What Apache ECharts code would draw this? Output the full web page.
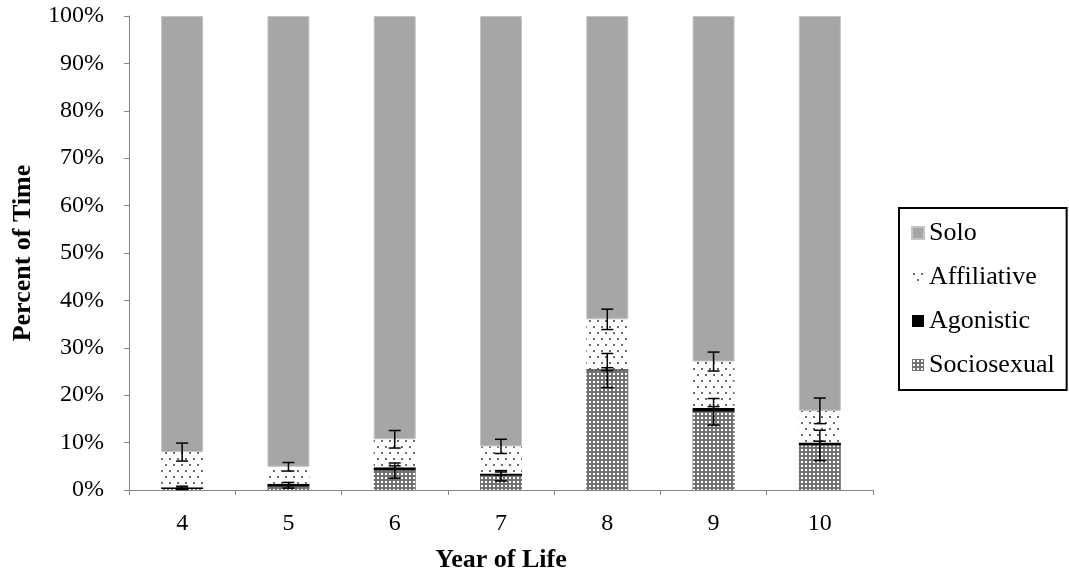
<!DOCTYPE html>
<html>
<head>
<meta charset="utf-8">
<script src="https://cdn.jsdelivr.net/npm/echarts@6/dist/echarts.min.js"></script>
<style>
html,body{margin:0;padding:0;background:#fff;}
#chart{width:1069px;height:575px;}
</style>
</head>
<body>
<div id="chart"></div>
<script>
// ---- data (percent of time) ----
const years = ['4', '5', '6', '7', '8', '9', '10'];
const sociosexual = [0.2, 0.7, 4.1, 3.0, 25.2, 16.5, 9.4];
const agonistic   = [0.4, 0.6, 0.7, 0.5, 0.3, 0.8, 0.6];
const affiliative = [7.4, 3.6, 5.9, 5.7, 10.5, 9.8, 6.7];
const solo        = [92.0, 95.1, 89.3, 90.8, 64.0, 72.9, 83.3];
const sociosexualErr = [0.1, 0.3, 1.6, 1.1, 3.6, 2.8, 3.2];
const agonisticErr   = [0.2, 0.3, 0.3, 0.3, 0.3, 0.3, 0.3];
const affiliativeErr = [1.9, 0.9, 1.85, 1.5, 2.15, 2.0, 2.7];
const yTicks = [0, 10, 20, 30, 40, 50, 60, 70, 80, 90, 100];

// ---- patterns ----
function makeDots() {
  const c = document.createElement('canvas');
  c.width = 8; c.height = 12;
  const g = c.getContext('2d');
  g.fillStyle = '#ffffff'; g.fillRect(0, 0, 8, 12);
  g.fillStyle = '#6a6a6a';
  g.fillRect(1, 2, 2, 2);
  g.fillRect(5, 8, 2, 2);
  return c;
}
function makeGrid() {
  const c = document.createElement('canvas');
  c.width = 4; c.height = 4;
  const g = c.getContext('2d');
  g.fillStyle = '#727272'; g.fillRect(0, 0, 4, 4);
  g.fillStyle = '#ffffff'; g.fillRect(1, 1, 2, 2);
  return c;
}
const dotPattern = { image: makeDots(), repeat: 'repeat' };
const gridPattern = { image: makeGrid(), repeat: 'repeat' };

function errData(centers, errs) {
  return centers.map((c, i) => [i, c, errs[i]]);
}
const socTop = sociosexual.slice();
const agoTop = sociosexual.map((v, i) => v + agonistic[i]);
const affTop = agoTop.map((v, i) => v + affiliative[i]);

function errRender(params, api) {
  const x = api.value(0), c = api.value(1), h = api.value(2);
  const top = api.coord([x, c + h]);
  const bot = api.coord([x, c - h]);
  const cap = 6;
  const st = { stroke: '#000', lineWidth: 1.5 };
  return {
    type: 'group',
    children: [
      { type: 'line', shape: { x1: top[0], y1: top[1], x2: bot[0], y2: bot[1] }, style: st },
      { type: 'line', shape: { x1: top[0] - cap, y1: top[1], x2: top[0] + cap, y2: top[1] }, style: st },
      { type: 'line', shape: { x1: bot[0] - cap, y1: bot[1], x2: bot[0] + cap, y2: bot[1] }, style: st }
    ]
  };
}
function errSeries(name, data) {
  return {
    name: name, type: 'custom', renderItem: errRender,
    data: data, encode: { x: 0, y: 1 }, z: 10, silent: true
  };
}

const FONT = '"Liberation Serif", "Times New Roman", serif';
const axisColor = '#868686';

const chart = echarts.init(document.getElementById('chart'), null, { renderer: 'canvas' });
chart.setOption({
  animation: false,
  textStyle: { fontFamily: FONT, color: '#000' },
  grid: { left: 129, right: 196, top: 16, bottom: 85, containLabel: false, outerBoundsMode: 'none' },
  legend: {
    data: ['Solo', 'Affiliative', 'Agonistic', 'Sociosexual'],
    orient: 'vertical',
    left: 899, top: 208,
    padding: [12, 12, 12, 12],
    itemGap: 18,
    itemWidth: 12, itemHeight: 12,
    icon: 'rect',
    borderColor: '#000', borderWidth: 2,
    textStyle: { fontFamily: FONT, fontSize: 26, color: '#000', lineHeight: 26 }
  },
  xAxis: {
    type: 'category',
    data: years,
    name: 'Year of Life',
    nameLocation: 'middle',
    nameGap: 57,
    nameTextStyle: { fontFamily: FONT, fontSize: 26, fontWeight: 'bold', color: '#000' },
    axisLine: { show: true, lineStyle: { color: axisColor, width: 1 } },
    axisTick: { show: true, length: 5, lineStyle: { color: axisColor } },
    axisLabel: { fontFamily: FONT, fontSize: 24, color: '#000', margin: 22 },
    splitLine: { show: false }
  },
  yAxis: {
    type: 'value',
    min: yTicks[0], max: yTicks[yTicks.length - 1], interval: 10,
    name: 'Percent of Time',
    nameLocation: 'middle',
    nameGap: 93,
    nameTextStyle: { fontFamily: FONT, fontSize: 26, fontWeight: 'bold', color: '#000' },
    axisLine: { show: true, lineStyle: { color: axisColor, width: 1 } },
    axisTick: { show: true, length: 5, lineStyle: { color: axisColor } },
    axisLabel: { fontFamily: FONT, fontSize: 24, color: '#000', margin: 25, formatter: '{value}%' },
    splitLine: { show: false }
  },
  series: [
    { name: 'Sociosexual', type: 'bar', stack: 'a', barWidth: 42, data: sociosexual,
      itemStyle: { color: gridPattern } },
    { name: 'Agonistic', type: 'bar', stack: 'a', barWidth: 42, data: agonistic,
      itemStyle: { color: '#000' } },
    { name: 'Affiliative', type: 'bar', stack: 'a', barWidth: 42, data: affiliative,
      itemStyle: { color: dotPattern } },
    { name: 'Solo', type: 'bar', stack: 'a', barWidth: 42, data: solo,
      itemStyle: { color: '#a6a6a6', borderColor: '#c4c4c4', borderWidth: 1 } },
    errSeries('errSoc', errData(socTop, sociosexualErr)),
    errSeries('errAgo', errData(agoTop, agonisticErr)),
    errSeries('errAff', errData(affTop, affiliativeErr))
  ]
});
</script>
</body>
</html>
